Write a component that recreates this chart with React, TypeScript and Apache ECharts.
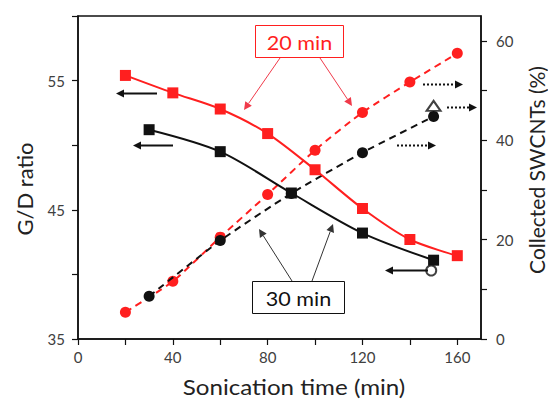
import React, { useEffect, useRef } from "react";
import * as echarts from "echarts";

// Sonication times (min)
const time20 = [20, 40, 60, 80, 100, 120, 140, 160];
const time30 = [30, 60, 90, 120, 150];

// G/D ratio (left axis)
const gd20 = [55.4, 54.05, 52.8, 50.9, 48.1, 45.1, 42.7, 41.45];
const gd30 = [51.2, 49.5, 46.3, 43.2, 41.1];

// Collected SWCNTs (%) (right axis)
const col20 = [5.4, 11.6, 20.5, 29.1, 38.0, 45.6, 51.7, 57.5];
const col30 = [8.6, 19.8, 29.3, 37.5, 44.8];

// extra open markers
const openCircle = [[149, 40.3]]; // G/D, left axis
const openTriangle = [[150, 46.9]]; // collected, right axis

const xTicks = [0, 40, 80, 120, 160];
const leftTicks = [35, 45, 55];
const rightTicks = [0, 20, 40, 60];

const RED = "#ff1f1f";
const BLACK = "#111111";
const FONT = "Lato, 'Noto Sans', sans-serif";

function zip(xs: number[], ys: number[]) {
  return xs.map((x, i) => [x, ys[i]]);
}

function arrow(
  x1: number, y1: number, x2: number, y2: number,
  color: string, width: number, head: number, dash?: number[]
) {
  const ang = Math.atan2(y2 - y1, x2 - x1);
  const hl = head;
  const hw = head * 0.5;
  const bx = x2 - Math.cos(ang) * hl;
  const by = y2 - Math.sin(ang) * hl;
  const px = -Math.sin(ang) * hw;
  const py = Math.cos(ang) * hw;
  return [
    {
      type: "line",
      shape: { x1, y1, x2: bx, y2: by },
      style: { stroke: color, lineWidth: width, lineDash: dash || null },
      z: 100,
    },
    {
      type: "polygon",
      shape: { points: [[x2, y2], [bx + px, by + py], [bx - px, by - py]] },
      style: { fill: color },
      z: 100,
    },
  ];
}

export default function App() {
  const ref = useRef<HTMLDivElement>(null);
  useEffect(() => {
    if (!ref.current) return;
    const chart = echarts.init(ref.current, null, { renderer: "svg" });
    const tickLabel = {
      color: "#404040",
      fontSize: 15,
      fontFamily: FONT,
    };
    const graphics: any[] = [
      // axis titles
      {
        type: "text",
        x: 294, y: 387, scaleX: 1.15,
        style: { text: "Sonication time (min)", fontSize: 21, fontFamily: FONT, fill: "#222", align: "center", verticalAlign: "middle" },
      },
      {
        type: "text",
        x: 24, y: 189, rotation: Math.PI / 2,
        style: { text: "G/D ratio", fontSize: 22, fontFamily: FONT, fill: "#222", align: "center", verticalAlign: "middle" },
      },
      {
        type: "text",
        x: 536, y: 170, rotation: Math.PI / 2,
        style: { text: "Collected SWCNTs (%)", fontSize: 21, fontFamily: FONT, fill: "#222", align: "center", verticalAlign: "middle" },
      },
      // 20 min box
      {
        type: "rect",
        shape: { x: 255.5, y: 25.5, width: 88, height: 32 },
        style: { fill: "#fff", stroke: RED, lineWidth: 1 },
        z: 101,
      },
      {
        type: "text",
        x: 299.5, y: 42, scaleX: 1.08,
        style: { text: "20 min", fontSize: 20, fontFamily: FONT, fill: RED, align: "center", verticalAlign: "middle" },
        z: 102,
      },
      // 30 min box
      {
        type: "rect",
        shape: { x: 252.5, y: 281.5, width: 92, height: 32 },
        style: { fill: "#fff", stroke: BLACK, lineWidth: 1 },
        z: 101,
      },
      {
        type: "text",
        x: 298.5, y: 298, scaleX: 1.08,
        style: { text: "30 min", fontSize: 20, fontFamily: FONT, fill: BLACK, align: "center", verticalAlign: "middle" },
        z: 102,
      },
      ...arrow(280, 58, 244, 110, "#f03a4a", 1, 8),
      ...arrow(320, 58, 352, 106, "#f03a4a", 1, 8),
      ...arrow(292, 281, 259, 229, "#333", 1, 8),
      ...arrow(312, 281, 333, 224, "#333", 1, 8),
      // left-pointing solid arrows (left axis)
      ...arrow(157, 93.5, 116, 93.5, BLACK, 2, 8),
      ...arrow(173, 145.5, 133, 145.5, BLACK, 2, 8),
      ...arrow(428, 270.5, 385, 270.5, BLACK, 2, 8),
      // right-pointing dotted arrows (right axis)
      ...arrow(423, 84.5, 463, 84.5, BLACK, 2, 8, [2, 2]),
      ...arrow(447, 107.5, 477, 107.5, BLACK, 2, 8, [2, 2]),
      ...arrow(397, 145.5, 436, 145.5, BLACK, 2, 8, [2, 2]),
    ];

    const option: any = {
      animation: false,
      textStyle: { fontFamily: FONT },
      grid: {
        left: 78,
        right: 67,
        top: 16,
        bottom: 63,
        show: true,
        borderColor: BLACK,
        borderWidth: 1.5,
      },
      xAxis: {
        type: "value",
        min: 0,
        max: 170,
        interval: 20,
        splitLine: { show: false },
        axisLine: { onZero: false, lineStyle: { color: BLACK, width: 1.5 } },
        axisTick: { show: true, length: 6, inside: false, lineStyle: { color: BLACK, width: 1.2 } },
        axisLabel: {
          ...tickLabel,
          margin: 10,
          showMaxLabel: false,
          formatter: (v: number) => (xTicks.includes(v) ? String(v) : ""),
        },
      },
      yAxis: [
        {
          type: "value",
          min: 35,
          max: 60,
          interval: 5,
          splitLine: { show: false },
          axisLine: { show: true, lineStyle: { color: BLACK, width: 1.5 } },
          axisTick: { show: true, length: 6, lineStyle: { color: BLACK, width: 1.2 } },
          axisLabel: {
            ...tickLabel,
            margin: 13,
            formatter: (v: number) => (leftTicks.includes(v) ? String(v) : ""),
          },
        },
        {
          type: "value",
          min: 0,
          max: 65,
          interval: 10,
          position: "right",
          splitLine: { show: false },
          axisLine: { show: true, lineStyle: { color: BLACK, width: 1.5 } },
          axisTick: { show: true, length: 6, lineStyle: { color: BLACK, width: 1.2 } },
          axisLabel: {
            ...tickLabel,
            margin: 15,
            showMaxLabel: false,
            formatter: (v: number) => (rightTicks.includes(v) ? String(v) : ""),
          },
        },
      ],
      series: [
        {
          name: "Collected 20 min",
          type: "line",
          yAxisIndex: 1,
          data: zip(time20, col20),
          smooth: 0.2,
          symbol: "circle",
          symbolSize: 11,
          lineStyle: { color: RED, width: 2, type: [7, 5] },
          itemStyle: { color: RED },
          z: 2,
        },
        {
          name: "Collected 30 min",
          type: "line",
          yAxisIndex: 1,
          data: zip(time30, col30),
          smooth: 0.2,
          symbol: "circle",
          symbolSize: 11,
          lineStyle: { color: BLACK, width: 2, type: [7, 5] },
          itemStyle: { color: BLACK },
          z: 3,
        },
        {
          name: "G/D 20 min",
          type: "line",
          yAxisIndex: 0,
          data: zip(time20, gd20),
          smooth: 0.3,
          symbol: "rect",
          symbolSize: 11,
          lineStyle: { color: RED, width: 2 },
          itemStyle: { color: RED },
          z: 4,
        },
        {
          name: "G/D 30 min",
          type: "line",
          yAxisIndex: 0,
          data: zip(time30, gd30),
          smooth: 0.3,
          symbol: "rect",
          symbolSize: 11,
          lineStyle: { color: BLACK, width: 2 },
          itemStyle: { color: BLACK },
          z: 5,
        },
        {
          name: "open circle",
          type: "scatter",
          yAxisIndex: 0,
          data: openCircle,
          symbol: "circle",
          symbolSize: 10,
          itemStyle: { color: "#fff", borderColor: BLACK, borderWidth: 2 },
          z: 6,
        },
        {
          name: "open triangle",
          type: "scatter",
          yAxisIndex: 1,
          data: openTriangle,
          symbol: "triangle",
          symbolSize: [14, 10],
          itemStyle: { color: "#fff", borderColor: BLACK, borderWidth: 2 },
          z: 6,
        },
      ],
      graphic: graphics,
    };
    chart.setOption(option);
    return () => chart.dispose();
  }, []);
  return (
    <div
      ref={ref}
      style={{ width: 548, height: 402, position: "absolute", left: 0, top: 0, background: "#fff" }}
    />
  );
}
